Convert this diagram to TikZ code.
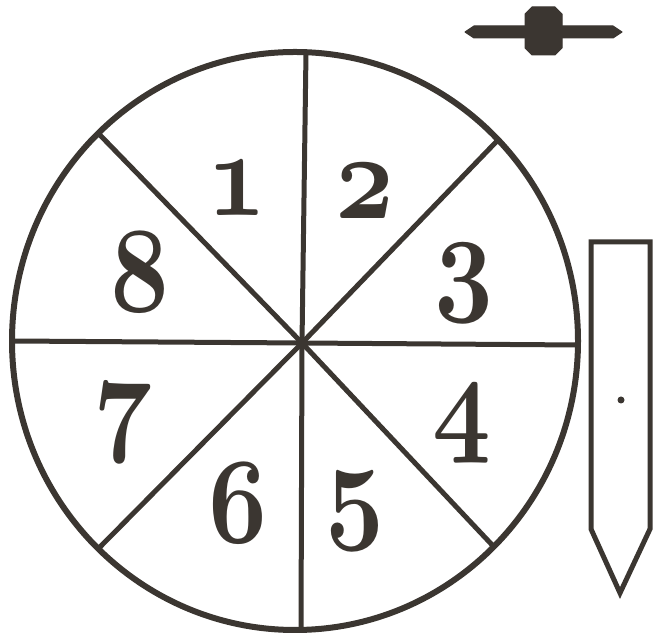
\RequirePackage{fix-cm}
\documentclass[tikz,border=0pt]{standalone}
\usetikzlibrary{calc}
\definecolor{ink}{HTML}{3B3631}
\newcommand{\spinnum}[1]{\scalebox{0.84}[1]{#1}}
\tikzset{
  rim/.style   ={draw=ink, line width=6pt},
  spoke/.style ={draw=ink, line width=5pt},
  digit/.style ={text=ink, inner sep=0pt,
                 font=\fontsize{122}{122}\usefont{OML}{cmm}{b}{it}},
  stake/.style ={draw=ink, line width=5pt, line join=miter, fill=white},
  arrowbar/.style={fill=ink, draw=ink, line width=1pt, line join=round},
}

\begin{document}
\begin{tikzpicture}[x=1pt,y=1pt]
  \useasboundingbox (0,0) rectangle (653,636);

  % spinner disc
  \coordinate (c)   at (295,295);
  \coordinate (hub) at (302,293);
  \coordinate (pN)  at (306,584);
  \coordinate (pS)  at (301,6);
  \coordinate (pW)  at (12,295);
  \coordinate (pE)  at (578,291);
  \coordinate (pNW) at (98,503);
  \coordinate (pNE) at (497,495);
  \coordinate (pSW) at (99,88);
  \coordinate (pSE) at (495,88);
  \foreach \p in {pN,pNE,pE,pSE,pS,pSW,pW,pNW}
      \draw[spoke] (hub) -- (\p);
  \draw[rim] (c) ellipse [x radius=283, y radius=289];
  \fill[ink] (hub) circle (6);

  % numbers
  \node[digit] (n1) at (237,448) {\spinnum{1}};
  \node[digit] (n2) at (365,445) {\spinnum{2}};
  \node[digit] (n3) at (464,353) {\spinnum{3}};
  \node[digit] (n4) at (462,212) {\spinnum{4}};
  \node[digit] (n5) at (355,125) {\spinnum{5}};
  \node[digit] (n6) at (238,133) {\spinnum{6}};
  \node[digit] (n7) at (123,213) {\spinnum{7}};
  \node[digit] (n8) at (140,364) {\spinnum{8}};

  % pointer
  \draw[arrowbar] (465,604) -- (474,610) -- (613,610) -- (622,604)
        -- (613,598) -- (474,598) -- cycle;
  \draw[arrowbar] (532,629) -- (555,629) -- (562,622) -- (562,588)
        -- (555,581) -- (532,581) -- (525,588) -- (525,622) -- cycle;

  % stake
  \draw[stake] (591,394) -- (650,394) -- (650,107) -- (620,43)
        -- (591,107) -- cycle;
  \fill[ink] (621,236) circle (3.5);
\end{tikzpicture}
\end{document}
